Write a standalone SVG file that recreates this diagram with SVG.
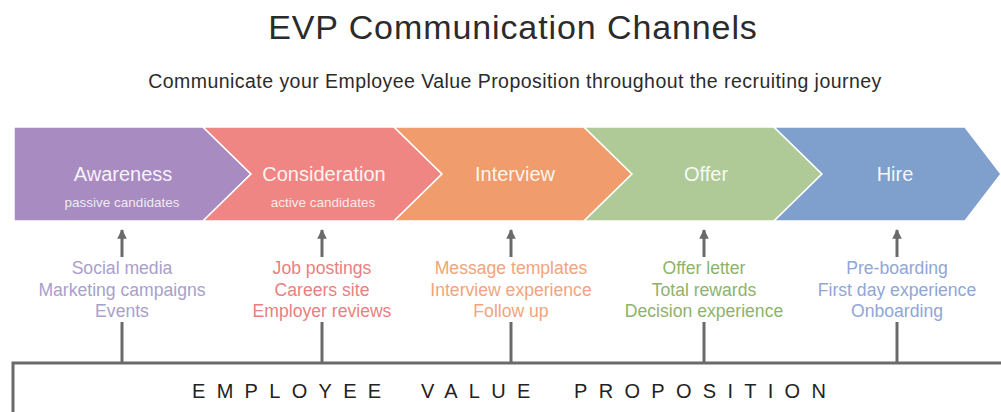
<svg xmlns="http://www.w3.org/2000/svg" width="1001" height="412" viewBox="0 0 1001 412">
<style>
text{font-family:"Liberation Sans",Arial,sans-serif}
.title{font-size:34px;fill:#2b2b2b;letter-spacing:0.9px}
.sub{font-size:19.5px;fill:#2b2b2b;letter-spacing:0.45px}
.chev{stroke:#ffffff;stroke-width:1.5}
.lbl{font-size:20px;fill:#ffffff;fill-opacity:0.92}
.sl{font-size:13.5px;fill:#ffffff;fill-opacity:0.85}
.li{font-size:17.6px}
.conn{stroke:#6a6a6a;stroke-width:3;fill:none}
.evp{font-size:20px;fill:#222222;letter-spacing:11.3px}
</style>
<defs>
<marker id="ah" viewBox="0 0 10 10" refX="9" refY="5" markerWidth="3.2" markerHeight="3.2" orient="auto" markerUnits="strokeWidth">
<path d="M0,0 L10,5 L0,10 Z" fill="#6a6a6a"/>
</marker>
</defs>
<rect width="1001" height="412" fill="#ffffff"/>
<g id="title">
<text class="title" x="513" y="39" text-anchor="middle">EVP Communication Channels</text>
<text class="sub" x="515" y="88" text-anchor="middle">Communicate your Employee Value Proposition throughout the recruiting journey</text>
</g>
<g id="awareness">
<path class="chev" fill="#a78bc1" d="M14,127 L203,127 L251,174 L203,221 L14,221 Z"/>
<text class="lbl" x="123" y="181" text-anchor="middle">Awareness</text>
<text class="sl" x="122" y="207" text-anchor="middle">passive candidates</text>
<g class="li" fill="#a8a0cc" text-anchor="middle">
<text x="122" y="274">Social media</text>
<text x="122" y="295.5">Marketing campaigns</text>
<text x="122" y="317">Events</text>
</g>
</g>
<g id="consideration">
<path class="chev" fill="#ef8684" d="M203,127 L394,127 L442,174 L394,221 L203,221 L251,174 Z"/>
<text class="lbl" x="324" y="181" text-anchor="middle">Consideration</text>
<text class="sl" x="323" y="207" text-anchor="middle">active candidates</text>
<g class="li" fill="#e87f80" text-anchor="middle">
<text x="322" y="274">Job postings</text>
<text x="322" y="295.5">Careers site</text>
<text x="322" y="317">Employer reviews</text>
</g>
</g>
<g id="interview">
<path class="chev" fill="#f19c6c" d="M394,127 L584,127 L632,174 L584,221 L394,221 L442,174 Z"/>
<text class="lbl" x="515" y="181" text-anchor="middle">Interview</text>
<g class="li" fill="#f2a47c" text-anchor="middle">
<text x="511" y="274">Message templates</text>
<text x="511" y="295.5">Interview experience</text>
<text x="511" y="317">Follow up</text>
</g>
</g>
<g id="offer">
<path class="chev" fill="#afca97" d="M584,127 L774,127 L822,174 L774,221 L584,221 L632,174 Z"/>
<text class="lbl" x="706" y="181" text-anchor="middle">Offer</text>
<g class="li" fill="#8db36a" text-anchor="middle">
<text x="704" y="274">Offer letter</text>
<text x="704" y="295.5">Total rewards</text>
<text x="704" y="317">Decision experience</text>
</g>
</g>
<g id="hire">
<path class="chev" fill="#7f9fcd" d="M774,127 L965,127 L1001,174 L965,221 L774,221 L822,174 Z"/>
<text class="lbl" x="895" y="181" text-anchor="middle">Hire</text>
<g class="li" fill="#8fa6d6" text-anchor="middle">
<text x="897" y="274">Pre-boarding</text>
<text x="897" y="295.5">First day experience</text>
<text x="897" y="317">Onboarding</text>
</g>
</g>
<g id="evp">
<path class="conn" d="M13,414 L13,363 L1003,363"/>
<text class="evp" y="398"><tspan x="192">EMPLOYEE</tspan><tspan x="421">VALUE</tspan><tspan x="574">PROPOSITION</tspan></text>
</g>
<g id="connectors">
<path class="conn" marker-end="url(#ah)" d="M122,257 L122,230"/>
<path class="conn" marker-end="url(#ah)" d="M322,257 L322,230"/>
<path class="conn" marker-end="url(#ah)" d="M511,257 L511,230"/>
<path class="conn" marker-end="url(#ah)" d="M704,257 L704,230"/>
<path class="conn" marker-end="url(#ah)" d="M897,257 L897,230"/>
<path class="conn" d="M122,322 L122,363"/>
<path class="conn" d="M322,322 L322,363"/>
<path class="conn" d="M511,322 L511,363"/>
<path class="conn" d="M704,322 L704,363"/>
<path class="conn" d="M897,322 L897,363"/>
</g>
</svg>
